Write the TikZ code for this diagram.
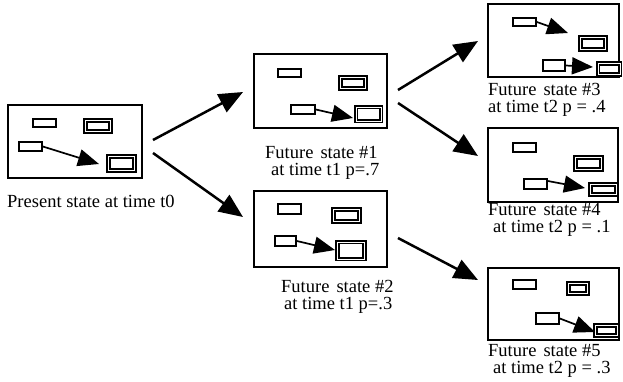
\documentclass[tikz,border=0pt]{standalone}
\usepackage{fontspec}
\setmainfont{Liberation Serif}
\usetikzlibrary{arrows.meta}

\tikzset{
  frame/.style={draw, line width=2.5pt, inner sep=0pt, fill=white},
  obj/.style={draw, line width=1.7pt, fill=white, inner sep=0pt},
  dbl/.style={draw, line width=1.8pt, double=white, double distance=0.8pt, inner sep=0pt},
  move/.style={line width=1.7pt, -{Triangle[length=21pt,width=17pt]}},
  trans/.style={line width=2.5pt, -{Triangle[length=24pt,width=20pt]}},
  lbl/.style={inner sep=0pt, anchor=base west, font=\fontsize{18.5}{20}\selectfont}
}
\newcommand{\gap}{\hspace{7pt}}

\begin{document}
\begin{tikzpicture}[x=1pt, y=-1pt]
\useasboundingbox (0,0) rectangle (623,381);

% ---- present state ----
\node[frame, minimum width=134pt, minimum height=73pt] (b0) at (75,141.5) {};
\node[obj, minimum width=23pt, minimum height=8.5pt] (b0s) at (44.5,123) {};
\node[dbl, minimum width=25pt, minimum height=11pt] (b0d) at (98,126) {};
\node[obj, minimum width=23pt, minimum height=9pt] (b0m) at (30.5,146.5) {};
\node[dbl, minimum width=26pt, minimum height=14pt] (b0t) at (121.5,163.5) {};
\coordinate (b0h) at (99,164);
\draw[move] (b0m.east) -- (b0h);
\node[lbl] (l0) at (7,207) {Present state at time t0};

% ---- future state 1 ----
\node[frame, minimum width=133pt, minimum height=74pt] (b1) at (320.5,91) {};
\node[obj, minimum width=23pt, minimum height=8.5pt] (b1s) at (289.5,73) {};
\node[dbl, minimum width=25pt, minimum height=11pt] (b1d) at (353,83) {};
\node[obj, minimum width=24pt, minimum height=9pt] (b1m) at (303,109.5) {};
\node[dbl, minimum width=25pt, minimum height=14pt] (b1t) at (368.5,114) {};
\coordinate (b1h) at (353,118);
\draw[move] (b1m.east) -- (b1h);
\node[lbl] (l1a) at (265,158) {Future\gap state \#1};
\node[lbl] (l1b) at (271,175) {at time t1 p=.7};

% ---- future state 2 ----
\node[frame, minimum width=133pt, minimum height=76pt] (b2) at (320.5,229) {};
\node[obj, minimum width=23pt, minimum height=9.5pt] (b2s) at (289.5,209) {};
\node[dbl, minimum width=26pt, minimum height=12pt] (b2d) at (346.5,215.5) {};
\node[obj, minimum width=21pt, minimum height=10pt] (b2m) at (285.5,241) {};
\node[dbl, minimum width=27pt, minimum height=17pt] (b2t) at (351,250.5) {};
\coordinate (b2h) at (335,250);
\draw[move] (b2m.east) -- (b2h);
\node[lbl] (l2a) at (281,292) {Future\gap state \#2};
\node[lbl] (l2b) at (284,309) {at time t1 p=.3};

% ---- future state 3 ----
\node[frame, minimum width=131pt, minimum height=73pt] (b3) at (553.5,40.5) {};
\node[obj, minimum width=23pt, minimum height=8.5pt] (b3s) at (524.5,22) {};
\node[dbl, minimum width=25pt, minimum height=12pt] (b3d) at (593,43.5) {};
\node[obj, minimum width=22pt, minimum height=11pt] (b3m) at (554,65.5) {};
\node[dbl, minimum width=22pt, minimum height=11pt] (b3t) at (609,69) {};
\coordinate (b3h1) at (568,33);
\coordinate (b3h2) at (593,67);
\draw[move] (b3s.east) -- (b3h1);
\draw[move] (b3m.east) -- (b3h2);
\node[lbl] (l3a) at (488,95) {Future\gap state \#3};
\node[lbl] (l3b) at (488,112) {at time t2 p = .4};

% ---- future state 4 ----
\node[frame, minimum width=130pt, minimum height=74pt] (b4) at (553,165) {};
\node[obj, minimum width=23pt, minimum height=9pt] (b4s) at (524.5,147.5) {};
\node[dbl, minimum width=26pt, minimum height=12pt] (b4d) at (588.5,163.5) {};
\node[obj, minimum width=23pt, minimum height=10pt] (b4m) at (535.5,184) {};
\node[dbl, minimum width=26pt, minimum height=10pt] (b4t) at (603.5,189.5) {};
\coordinate (b4h) at (585,188);
\draw[move] ([yshift=3pt]b4m.east) -- (b4h);
\node[lbl] (l4a) at (488,215) {Future\gap state \#4};
\node[lbl] (l4b) at (493,232) {at time t2 p = .1};

% ---- future state 5 ----
\node[frame, minimum width=131pt, minimum height=72pt] (b5) at (553.5,304) {};
\node[obj, minimum width=23pt, minimum height=9pt] (b5s) at (524.5,284.5) {};
\node[dbl, minimum width=19pt, minimum height=10pt] (b5d) at (578,288.5) {};
\node[obj, minimum width=23pt, minimum height=11pt] (b5m) at (547.5,318.5) {};
\node[dbl, minimum width=22pt, minimum height=10pt] (b5t) at (606.5,330.5) {};
\coordinate (b5h) at (595,332);
\draw[move] (b5m.east) -- (b5h);
\node[lbl] (l5a) at (488,356) {Future\gap state \#5};
\node[lbl] (l5b) at (493,373) {at time t2 p = .3};

% ---- transitions between states ----
\coordinate (t01s) at (153,140);  \coordinate (t01e) at (243,92);
\coordinate (t02s) at (153,153);  \coordinate (t02e) at (243,217);
\coordinate (t13s) at (398,90);   \coordinate (t13e) at (478,41);
\coordinate (t14s) at (398,103);  \coordinate (t14e) at (478,156);
\coordinate (t25s) at (398,238);  \coordinate (t25e) at (478,280);
\draw[trans] (t01s) -- (t01e);
\draw[trans] (t02s) -- (t02e);
\draw[trans] (t13s) -- (t13e);
\draw[trans] (t14s) -- (t14e);
\draw[trans] (t25s) -- (t25e);
\end{tikzpicture}
\end{document}
